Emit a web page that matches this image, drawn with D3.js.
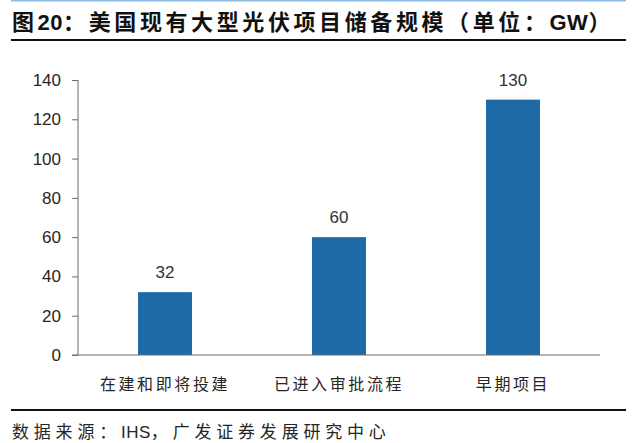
<!DOCTYPE html>
<html>
<head>
<meta charset="utf-8">
<script src="https://cdn.jsdelivr.net/npm/d3@7"></script>
<style>
  body { margin: 0; background: #fff; }
  svg { display: block; }
</style>
</head>
<body>
<div id="chart"></div>
<script>
var width     = 640,
    height    = 443,
    plotLeft  = 78,
    plotRight = 600,
    plotTop   = 80,
    plotBot   = 355;

// data
var categories = ["在建和即将投建", "已进入审批流程", "早期项目"];
var values     = [32, 60, 130];
var yTicks     = [0, 20, 40, 60, 80, 100, 120, 140];

var titleText  = "图20：美国现有大型光伏项目储备规模（单位：GW）";
var sourceText = "数据来源：IHS，广发证券发展研究中心";

var barColor  = "#1d6aa6",
    axisColor = "#6b6b6b",
    textColor = "#262626";

var x = d3.scaleBand()
    .domain(categories)
    .range([plotLeft, plotRight])
    .paddingInner(0.69)
    .paddingOuter(0.345);

var y = d3.scaleLinear()
    .domain([0, 140])
    .range([plotBot, plotTop]);

var svg = d3.select("#chart").append("svg")
    .attr("width", width)
    .attr("height", height);

// split a string into latin / cjk runs so only the cjk part gets spaced out
function spacedText(sel, str, spacing) {
    var runs = str.match(/[\x00-\x7f]+|[^\x00-\x7f]+/g);
    sel.selectAll("tspan")
        .data(runs)
        .enter()
        .append("tspan")
        .style("letter-spacing", function(d) { return /^[\x00-\x7f]+$/.test(d) ? "0.5px" : spacing; })
        .text(function(d) { return d; });
}

// header / footer rules
svg.append("line")
    .attr("x1", 11).attr("x2", 626)
    .attr("y1", 0.5).attr("y2", 0.5)
    .style("stroke", "#8dbbe4")
    .style("stroke-width", 2);

svg.append("text")
    .attr("x", 12)
    .attr("y", 30)
    .style("font-family", "'Liberation Sans', 'Noto Sans CJK SC', sans-serif")
    .style("font-weight", "bold")
    .style("font-size", "22px")
    .style("fill", "#111")
    .call(spacedText, titleText, "3.6px");

svg.append("line")
    .attr("x1", 11).attr("x2", 626)
    .attr("y1", 40).attr("y2", 40)
    .style("stroke", "#111")
    .style("stroke-width", 2);

svg.append("line")
    .attr("x1", 11).attr("x2", 626)
    .attr("y1", 410).attr("y2", 410)
    .style("stroke", "#111")
    .style("stroke-width", 2);

svg.append("text")
    .attr("x", 12)
    .attr("y", 438)
    .style("font-family", "'Liberation Sans', 'Noto Sans CJK SC', sans-serif")
    .style("font-size", "17px")
    .style("fill", textColor)
    .call(spacedText, sourceText, "4.8px");

// y axis
var gY = svg.append("g")
    .attr("transform", "translate(" + plotLeft + ",0)")
    .call(d3.axisLeft(y).tickValues(yTicks).tickSize(6).tickPadding(11));

gY.select(".domain").remove();
gY.append("line")
    .attr("x1", 0).attr("x2", 0)
    .attr("y1", plotTop).attr("y2", plotBot)
    .style("stroke", axisColor);

gY.selectAll(".tick line").style("stroke", axisColor);
gY.selectAll(".tick text")
    .style("font-family", "'Liberation Sans', Arial, sans-serif")
    .style("font-size", "17px")
    .style("fill", textColor);

// bars
svg.append("g").selectAll("rect")
    .data(values)
    .enter()
    .append("rect")
    .attr("x", function(d, i) { return x(categories[i]); })
    .attr("y", function(d) { return y(d); })
    .attr("width", x.bandwidth())
    .attr("height", function(d) { return y(0) - y(d); })
    .attr("fill", barColor);

svg.append("g").selectAll("text")
    .data(values)
    .enter()
    .append("text")
    .attr("x", function(d, i) { return x(categories[i]) + x.bandwidth() / 2; })
    .attr("y", function(d) { return y(d) - 14; })
    .attr("text-anchor", "middle")
    .style("font-family", "'Liberation Sans', Arial, sans-serif")
    .style("font-size", "17px")
    .style("fill", "#333")
    .text(function(d) { return d; });

// x axis
var gX = svg.append("g")
    .attr("transform", "translate(0," + plotBot + ")")
    .call(d3.axisBottom(x).tickSize(0).tickPadding(24));

gX.select(".domain").remove();
gX.append("line")
    .attr("x1", plotLeft - 6).attr("x2", plotRight)
    .attr("y1", 0).attr("y2", 0)
    .style("stroke", axisColor);

gX.selectAll(".tick text")
    .style("font-family", "'Noto Sans CJK SC', sans-serif")
    .style("font-size", "16px")
    .style("letter-spacing", "2.6px")
    .style("fill", textColor);
</script>
</body>
</html>
